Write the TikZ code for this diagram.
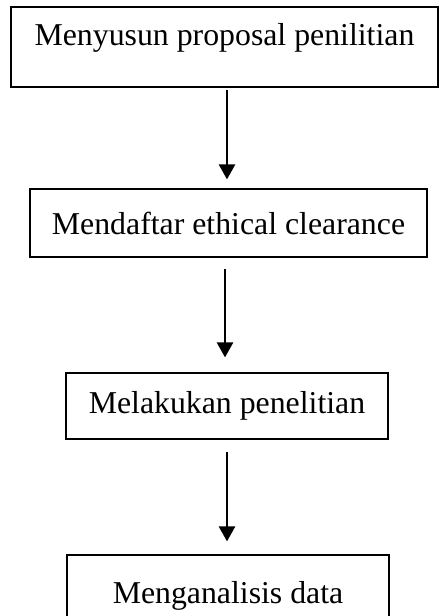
\documentclass[tikz,border=0pt]{standalone}
\usepackage{fontspec}
\setmainfont{Liberation Serif}
\usetikzlibrary{arrows.meta}
\begin{document}
\begin{tikzpicture}[x=1pt,y=-1pt,
    stepbox/.style={draw, line width=1.2pt, inner sep=0pt, font=\fontsize{31.8}{36}\selectfont},
    flow/.style={line width=2.6pt, -{Triangle[width=16pt,length=15pt]}}]
    \useasboundingbox (0,0) rectangle (439,616);
    % langkah-langkah
    \node[stepbox, minimum width=427pt, minimum height=80pt, text height=38pt, text depth=42pt] (s1) at (224.5,47) {Menyusun proposal penilitian};
    \node[stepbox, minimum width=397pt, minimum height=68pt] (s2) at (228.5,223) {Mendaftar ethical clearance};
    \node[stepbox, minimum width=322pt, minimum height=66pt] (s3) at (227,406) {Melakukan penelitian};
    \node[stepbox, minimum width=322pt, minimum height=82pt] (s4) at (228,596) {Menganalisis data};
    % panah
    \foreach \u/\v/\dx/\sa/\sb in {s1/s2/2.5/2/9, s2/s3/-3.5/11/15, s3/s4/0/12/13} {
        \draw[flow, shorten <=\sa pt, shorten >=\sb pt] ([xshift=\dx pt]\u.south) -- ([xshift=\dx pt]\u.south |- \v.north);
    }
\end{tikzpicture}
\end{document}
